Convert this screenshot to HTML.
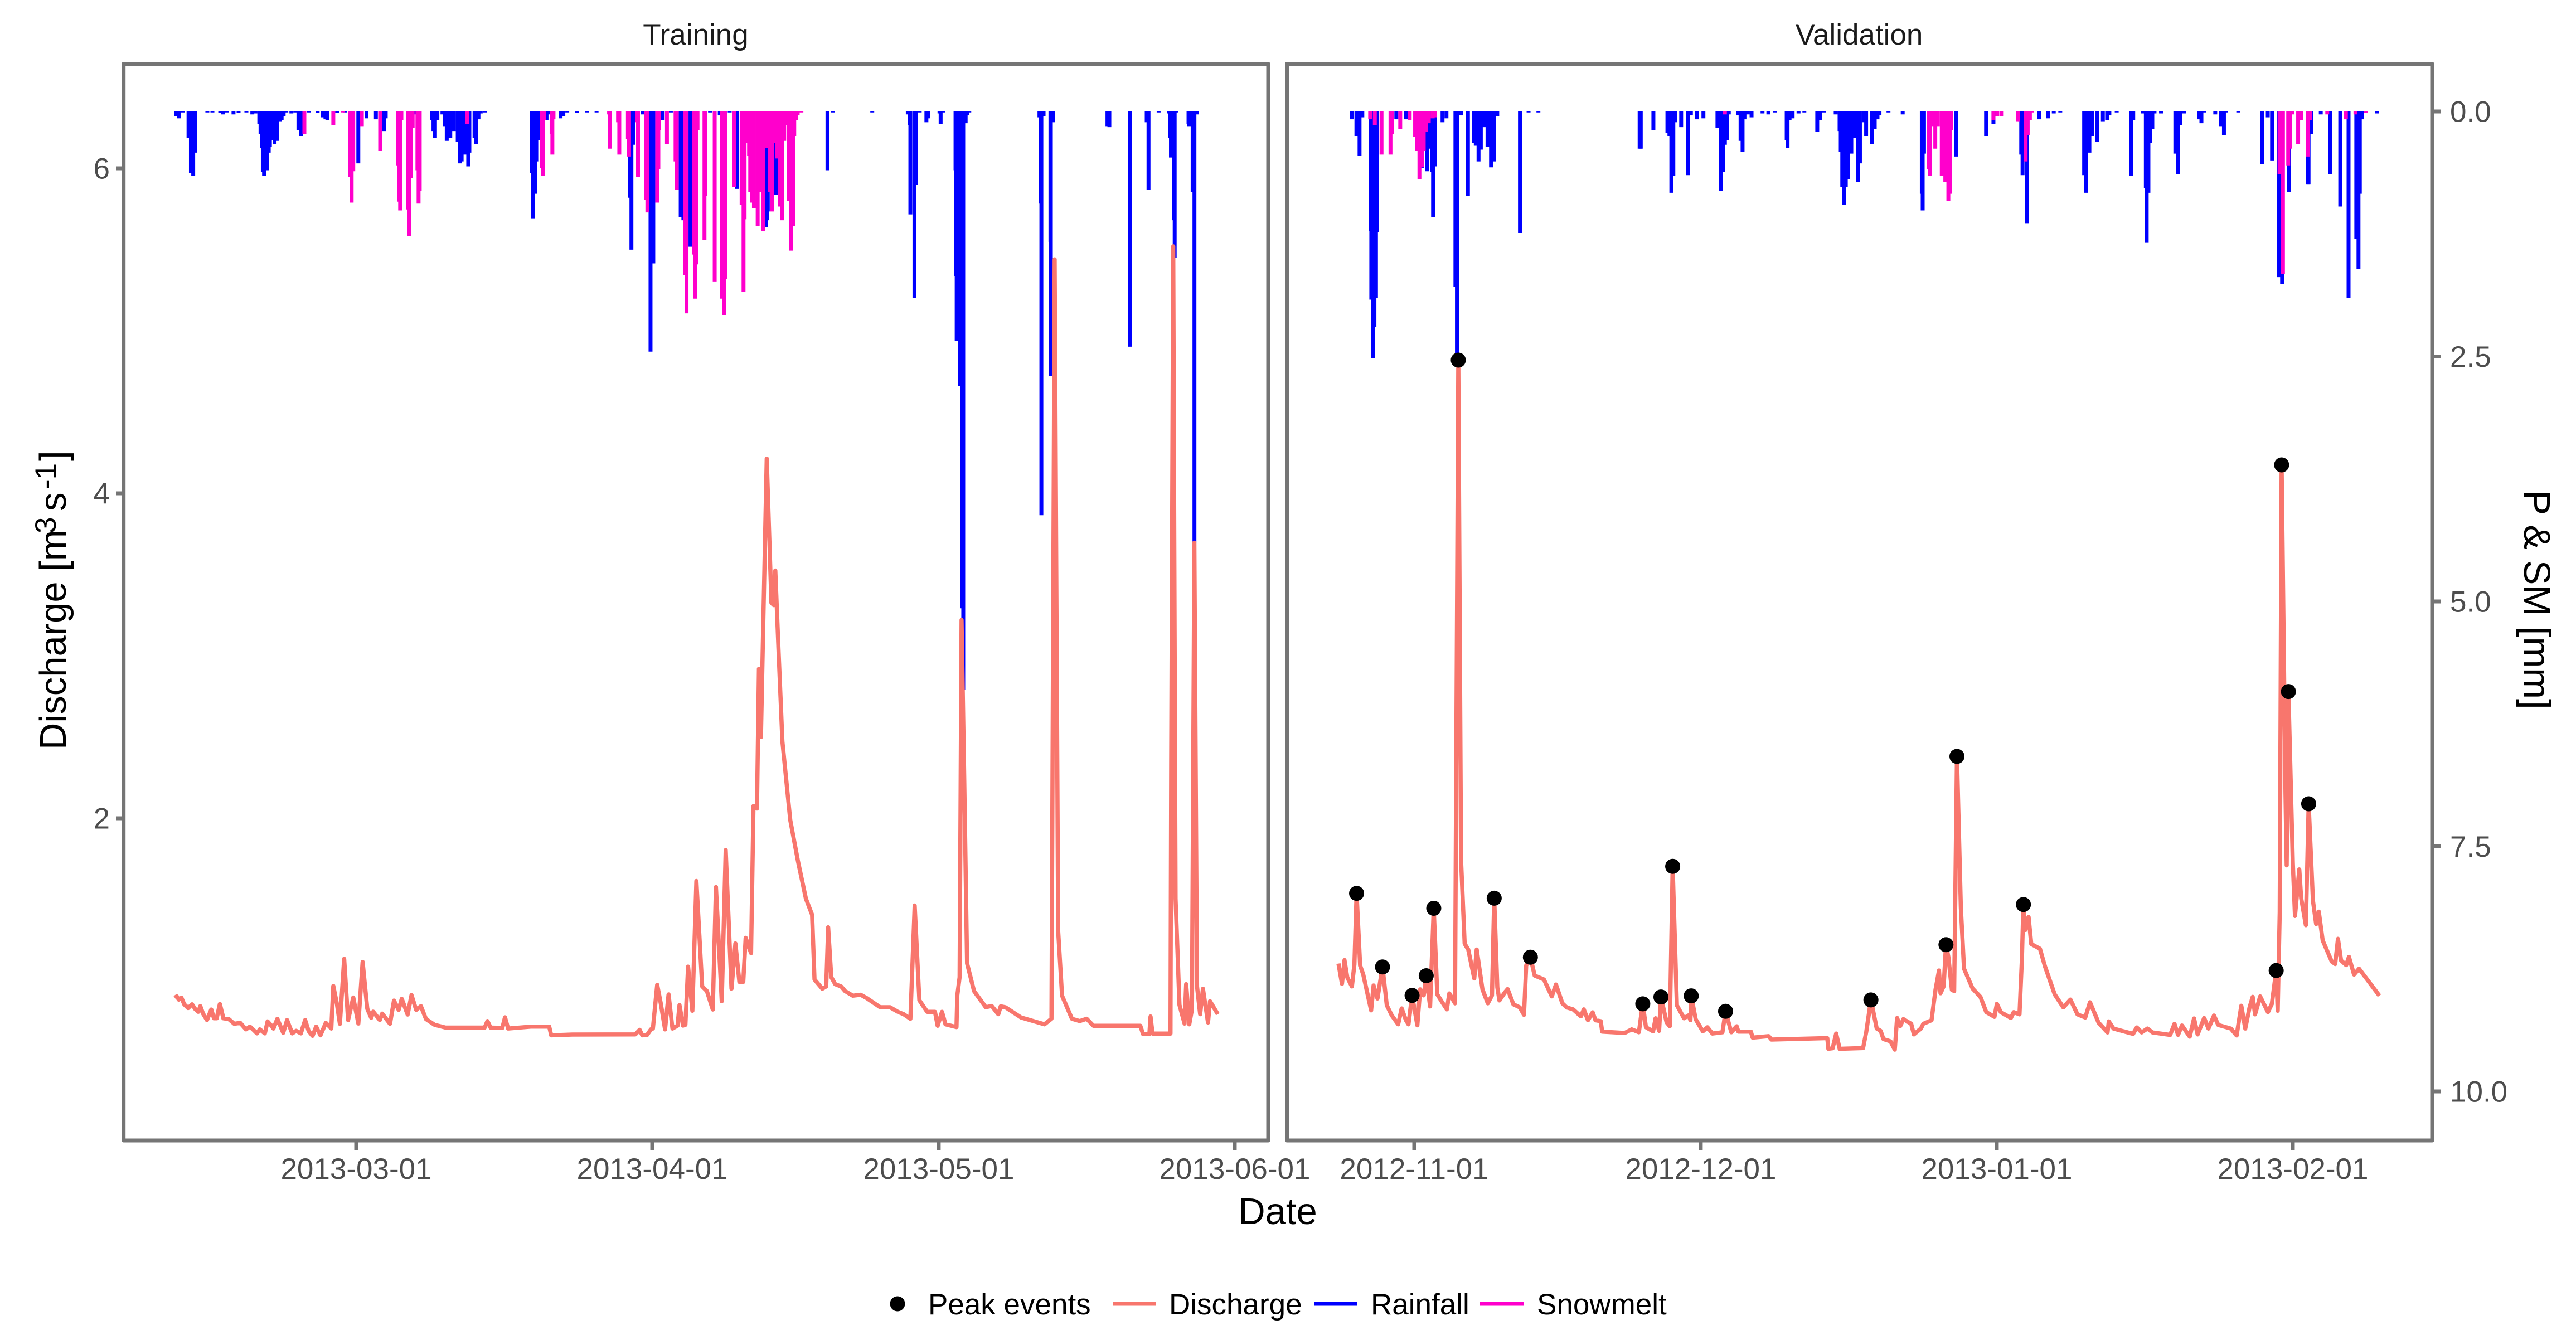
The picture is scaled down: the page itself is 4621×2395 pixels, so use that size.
<!DOCTYPE html>
<html lang="en">
<head>
<meta charset="utf-8">
<title>Discharge, rainfall and snowmelt: training and validation</title>
<style>
html,body{margin:0;padding:0;background:#fff}
svg{display:block}
text{font-family:"Liberation Sans",Arial,sans-serif}
</style>
</head>
<body>
<svg id="chart" xmlns="http://www.w3.org/2000/svg" width="4621" height="2395" viewBox="0 0 4621 2395">
  <rect x="0" y="0" width="4621" height="2395" fill="#ffffff"/>
  <g id="train-marks"></g>
  <g id="val-marks"></g>
  <rect x="221.7" y="114.5" width="2053.3" height="1931.5" fill="none" stroke="#757575" stroke-width="7" stroke-linejoin="round"/>
  <rect x="2308.5" y="114.5" width="2054.5" height="1931.5" fill="none" stroke="#757575" stroke-width="7" stroke-linejoin="round"/>
  <g id="axes"></g>
  <text x="1248" y="80" font-size="53" fill="#1a1a1a" text-anchor="middle">Training</text>
  <text x="3335" y="80" font-size="53" fill="#1a1a1a" text-anchor="middle">Validation</text>
  <text x="2292" y="2196" font-size="67" fill="#000" text-anchor="middle">Date</text>
  <text transform="translate(118,1345) rotate(-90)" font-size="67" fill="#000"><tspan x="0" y="0">Discharge [m</tspan><tspan x="388" y="-18" font-size="53">3</tspan><tspan x="428" y="0">s</tspan><tspan x="467" y="-18" font-size="53">-1</tspan><tspan x="518" y="0">]</tspan></text>
  <text transform="translate(4528,1076) rotate(90)" font-size="67" fill="#000" text-anchor="middle">P &amp; SM [mm]</text>
  <g>
    <circle cx="1610" cy="2339" r="13.5" fill="#000"/>
    <text x="1665" y="2358" font-size="53" fill="#000">Peak events</text>
    <rect x="1997" y="2335.5" width="77" height="7" fill="#F8766D"/>
    <text x="2097" y="2358" font-size="53" fill="#000">Discharge</text>
    <rect x="2357" y="2335.5" width="78" height="7" fill="#0000FF"/>
    <text x="2459" y="2358" font-size="53" fill="#000">Rainfall</text>
    <rect x="2655" y="2335.5" width="78" height="7" fill="#FF00CC"/>
    <text x="2757" y="2358" font-size="53" fill="#000">Snowmelt</text>
  </g>
</svg>
<script>
// Tick values
const trainTickDates = ['2013-03-01','2013-04-01','2013-05-01','2013-06-01'];
const valTickDates = ['2012-11-01','2012-12-01','2013-01-01','2013-02-01'];
const dischargeTicks = [2,4,6];
const precipTicks = [0,2.5,5,7.5,10];

// Training panel: days since 2013-03-01
const trainRainDays = [
-18.87,-18.58,-18.17,-17.56,-17.31,-17.07,-16.90,-15.59,-15.06,-14.24,
-13.95,-13.54,-12.85,-12.32,-11.50,-10.88,-10.55,-10.15,-10.02,-9.86,
-9.78,-9.65,-9.53,-9.32,-9.16,-9.04,-8.83,-8.55,-8.26,-8.01,
-7.81,-7.60,-7.32,-6.79,-6.38,-6.05,-5.80,-4.94,-4.04,-3.51,
-3.22,-3.02,-2.0,-1.17,0.22,1.08,2.06,2.92,3.09,6.12,
7.96,8.09,8.25,8.50,9.03,9.27,9.48,9.85,10.22,10.63,
10.83,11.04,11.36,11.73,11.85,12.39,12.55,12.80,13.04,13.49,
18.41,18.53,18.74,18.86,19.11,19.93,20.09,21.40,21.69,22.1,
23.12,24.14,25.17,28.69,28.82,29.02,30.0,30.82,31.11,32.09,
32.95,33.98,34.26,35.0,37.05,38.07,39.11,39.89,42.90,43.02,
43.10,43.96,49.35,49.94,54.04,57.76,57.95,58.03,58.46,58.62,
59.01,59.71,59.91,61.08,61.2,61.47,62.76,62.84,62.88,63.25,
63.46,63.57,63.82,64.0,64.2,71.55,71.7,71.75,71.98,72.70,
72.74,73.0,78.67,78.87,81.0,82.78,82.97,84.03,85.12,85.24,
85.32,85.63,85.71,85.9,87.16,87.2,87.59,87.78,88.05];
const trainRainMm = [
.05,.07,.01,.27,.63,.66,.42,.01,.01,.015,
.03,.01,.03,.015,.01,.03,.02,.13,.23,.37,
.62,.66,.60,.60,.42,.36,.29,.33,.30,.10,
.09,.05,.01,.02,.01,.19,.25,.01,.015,.06,
.08,.09,.015,.01,.53,.07,.08,.20,.07,.03,
.09,.20,.27,.09,.03,.15,.30,.27,.20,.31,
.53,.51,.44,.56,.42,.27,.33,.08,.02,.01,
.63,1.09,.84,.51,.29,.09,.03,.07,.05,.01,
.015,.01,.01,.88,1.41,.34,.03,2.45,1.55,.09,
.01,1.08,1.11,1.38,.01,.04,.01,.79,1.18,1.11,
1.02,.85,.60,.01,.01,.03,.14,1.05,1.90,.75,
.01,.11,.07,.02,.13,.01,.60,1.68,2.34,2.8,
5.07,5.9,.12,.04,.01,.06,.94,4.12,.05,1.33,
2.7,.11,.15,.16,2.4,.11,.80,.01,.02,.27,
.47,1.11,1.49,.01,.13,.15,.82,4.4,.03];

const trainSnowDays = [
-5.43,-2.40,-1.42,-.64,-.48,-.31,.59,2.51,4.40,4.52,
4.60,4.73,5.42,5.54,5.71,5.91,6.41,6.53,6.65,11.61,
19.44,19.56,19.68,20.46,20.54,20.66,26.48,26.56,27.42,27.55,
28.45,28.57,29.43,29.51,30.37,30.49,31.52,31.64,31.72,32.54,
33.44,33.57,34.47,34.59,35.37,35.49,35.61,35.74,36.47,36.56,
37.54,38.29,38.52,38.64,39.58,40.36,40.56,40.67,40.95,41.14,
41.26,41.46,41.65,42.04,42.31,42.59,42.90,43.33,43.57,43.76,
44.07,44.35,44.58,44.82,45.05,45.33,45.52,45.76,45.87,46.03,
46.23,46.62];
const trainSnowMm = [
.23,.14,.01,.67,.93,.61,.15,.40,.55,.92,
1.01,.09,1.0,1.27,.68,.17,.60,.94,.81,.13,
.58,.66,.09,.23,.44,.08,.03,.38,.11,.44,
.28,.46,.11,.67,.90,1.03,.93,.59,.19,.33,
.51,.80,1.67,2.06,1.46,1.91,1.56,.19,1.31,.86,
1.74,1.91,2.08,1.71,.77,.95,1.84,1.10,.32,.45,
.82,.93,.99,1.17,.82,1.22,.37,.82,1.02,.32,
.48,.97,1.11,.30,.14,.91,1.42,1.17,.25,.09,
.04,.01];

const trainQDays = [
-19.0,-18.79,-18.58,-18.30,-18.01,-17.60,-17.19,-16.86,-16.54,-16.33,
-16.04,-15.63,-15.18,-14.90,-14.61,-14.28,-13.91,-13.34,-12.77,-12.15,
-11.54,-11.13,-10.72,-10.39,-10.10,-9.57,-9.28,-8.96,-8.67,-8.26,
-7.65,-7.24,-6.70,-6.29,-5.80,-5.35,-4.98,-4.57,-4.20,-3.75,
-3.18,-2.61,-2.40,-2.03,-1.71,-1.26,-.85,-.31,.22,.67,
1.16,1.57,1.78,2.47,2.72,3.54,3.95,4.44,4.77,5.38,
5.79,6.28,6.77,7.31,8.21,9.36,11.81,13.45,13.74,14.07,
15.30,15.58,15.91,18.37,20.21,20.42,22.63,29.23,29.68,29.96,
30.45,30.86,31.07,31.52,31.89,32.34,32.71,33.12,33.65,33.85,
34.22,34.47,34.75,35.2,35.62,36.23,36.72,37.34,37.67,38.28,
38.69,39.30,39.71,40.12,40.53,40.78,41.35,41.6,41.97,42.17,
42.38,42.58,42.99,43.48,43.73,43.89,44.22,44.63,45.45,46.27,
47.09,47.74,47.99,48.81,49.22,49.42,49.75,50.16,50.78,51.19,
52.0,52.82,53.44,54.87,55.9,56.72,57.33,58.03,58.48,58.97,
59.79,60.61,60.89,61.34,61.71,62.86,
62.94,63.19,63.39,63.68,63.97,64.70,65.93,66.55,67.24,67.49,
67.98,69.62,72.08,72.81,73.14,73.51,73.92,74.95,75.77,76.5,
77.2,82.11,82.4,83.06,83.18,83.39,85.27,85.35,85.56,85.8,
86.21,86.74,86.91,87.24,87.52,87.77,88.05,88.38,88.67,89.2,
89.41,90.23];
const trainQValues = [
.895,.904,.884,.895,.855,.832,.855,.826,.809,.844,
.798,.758,.823,.769,.769,.857,.769,.764,.735,.741,
.701,.718,.695,.676,.701,.676,.75,.729,.706,.766,
.68,.758,.676,.692,.676,.758,.69,.661,.718,.664,
.741,.706,.968,.861,.735,1.135,.758,.897,.737,1.116,
.827,.772,.81,.758,.798,.735,.878,.821,.889,.792,
.912,.821,.844,.764,.729,.712,.712,.712,.752,.712,
.71,.775,.706,.718,.718,.664,.669,.67,.698,.664,
.666,.701,.706,.975,.861,.701,.916,.706,.724,.85,
.724,.729,1.087,.815,1.614,.965,.937,.823,1.577,.874,
1.804,.951,1.23,.993,.993,1.264,1.17,2.075,2.06,2.92,
2.5,3.07,4.214,3.326,3.312,3.525,3.04,2.473,1.989,1.733,
1.505,1.406,1.008,.951,.965,1.329,1.022,.979,.965,.937,
.908,.914,.894,.837,.837,.809,.794,.766,1.463,.88,
.809,.809,.723,.809,.732,.715,
.908,1.022,3.221,2.217,1.107,.937,.837,.845,.794,.843,
.837,.774,.732,.766,5.44,1.306,.908,.766,.752,.766,
.723,.723,.672,.672,.78,.675,.675,2.36,5.52,1.505,
.851,.737,.979,.732,.823,3.696,.965,.794,.951,.743,
.874,.794];

// Validation panel: days since 2012-11-01
const valRainDays = [
-6.55,-6.06,-5.73,-5.44,-4.58,-4.50,-4.34,-4.17,-4.01,-3.89,
-1.88,-.89,.79,1.36,1.52,1.85,1.97,2.14,2.96,3.37,
4.31,4.47,4.92,5.62,6.23,6.44,6.73,6.97,7.34,7.67,
8.04,8.32,8.69,11.07,11.97,13.0,23.60,23.72,25.04,26.51,
26.72,26.92,27.13,27.33,27.95,28.64,28.97,29.58,30.28,31.75,
32.08,32.33,32.53,32.74,32.94,33.89,34.17,34.38,34.58,34.91,
35.32,36.47,37.08,37.78,39.0,39.09,39.3,39.62,40.24,40.85,
42.2,42.49,42.9,44.13,44.54,44.66,44.82,44.99,45.19,45.44,
45.77,46.09,46.46,46.67,47.08,47.32,47.94,48.22,48.51,48.72,
49.66,51.15,53.15,53.24,53.38,56.74,59.88,60.65,63.43,63.56,
63.7,63.93,64.15,65.47,66.38,66.97,67.65,70.15,70.33,70.7,
71.0,71.52,72.11,72.56,72.79,73.56,75.06,75.29,76.29,76.61,
76.7,76.88,77.06,77.29,77.52,78.2,79.7,79.97,80.24,80.6,
82.2,82.43,82.74,83.88,84.47,84.79,85.02,86.29,88.79,89.38,
89.83,90.52,90.88,91.61,93.56,93.65,93.93,94.93,95.93,96.97,
97.84,98.65,98.88,99.02,99.25,100.83];
const valRainMm = [
.08,.25,.45,.06,1.22,1.92,2.52,2.20,1.90,1.23,
.08,.08,.58,.61,.38,.62,1.08,.56,.11,.07,
1.79,2.53,.04,.86,.32,.35,.51,.39,.16,.36,
.57,.51,.05,1.24,.01,.01,.38,.38,.19,.22,
.25,.83,.66,.11,.16,.65,.04,.08,.07,.17,
.81,.62,.34,.29,.03,.04,.30,.41,.08,.03,
.06,.02,.03,.01,.29,.37,.09,.07,.02,.01,
.21,.09,.01,.03,.20,.41,.77,.95,.77,.69,
.43,.27,.72,.53,.11,.25,.33,.18,.08,.04,
.01,.03,.84,1.01,.43,.46,.25,.13,.10,.44,
.65,.51,1.14,.08,.07,.02,.01,.65,.83,.42,
.25,.31,.10,.09,.04,.01,.66,.09,.02,.78,
1.34,.83,.32,.18,.02,.02,.43,.64,.14,.02,
.08,.12,.01,.03,.15,.24,.01,.01,.54,.06,
.50,1.69,1.76,.82,.74,.74,.23,.03,.64,.97,
1.90,1.30,1.61,.84,.08,.02];

const valSnowDays = [
-4.62,-4.13,-3.43,-2.49,-2.33,-1.47,-.48,.09,.29,.54,
.79,.99,1.24,1.52,1.93,2.14,32.53,53.88,54.02,54.24,
54.56,54.83,55.24,55.61,55.93,56.11,56.2,60.65,61.06,61.52,
63.25,64.02,64.24,64.47,64.7,90.61,90.97,91.52,91.74,91.97,
92.56,92.88,93.56,93.79,95.61,97.56,98.56,99.65];
const valSnowMm = [
.08,.14,.44,.44,.23,.18,.09,.26,.40,.69,
.57,.40,.21,.12,.07,.06,.03,.59,.66,.15,
.38,.15,.66,.72,.91,.84,.19,.09,.05,.05,
.10,.51,.24,.09,.01,.64,1.66,.55,.38,.03,
.33,.09,.46,.09,.03,.08,.03,.015];

const valQDays = [
-7.94,-7.57,-7.31,-7.01,-6.53,-6.27,-6.04,-5.67,-5.34,-4.52,
-4.26,-3.85,-3.33,-2.88,-2.36,-1.69,-1.32,-.87,-.61,-.23,
.32,.62,.99,1.25,1.66,2.04,2.41,2.93,3.41,3.67,
4.27,4.61,4.9,5.28,5.65,6.28,6.54,7.14,7.70,8.14,
8.37,8.70,8.92,9.48,9.78,10.38,11.05,11.49,11.72,12.16,
12.61,13.58,14.40,14.84,15.51,15.96,16.63,17.45,17.75,18.19,
18.68,18.98,19.53,19.68,22.03,22.77,23.52,23.93,24.26,25.01,
25.27,25.64,25.83,26.42,26.76,27.06,27.5,28.25,28.73,28.92,
29.0,29.47,30.22,30.7,31.22,32.27,32.6,33.2,33.76,33.94,
35.25,35.43,37.11,37.41,43.25,43.36,43.81,44.18,44.55,47.0,
47.33,47.82,48.43,48.84,49.13,49.87,50.32,50.56,50.89,51.22,
52.04,52.32,53.06,53.31,54.17,54.58,54.95,55.11,55.44,55.68,
55.93,56.3,56.54,56.83,57.24,57.57,58.47,59.29,59.9,60.76,
61.01,61.42,62.48,62.77,63.38,63.63,63.79,64.0,64.33,64.61,
65.52,66.05,67.07,67.97,68.71,69.45,70.27,70.76,71.66,72.6,
72.73,73.22,75.27,75.67,76.17,76.78,77.31,79.16,79.61,79.98,
80.39,81.21,81.66,82.03,82.72,83.17,83.75,84.2,85.51,86.12,
86.61,87.02,87.47,87.8,88.05,88.58,89.4,89.81,90.26,90.42,
90.63,90.83,91.24,91.36,91.54,92.0,92.23,92.68,92.88,93.37,
93.66,94.11,94.44,94.72,95.13,96.08,96.44,96.73,97.06,97.59,
97.88,98.41,98.94,101.07];
const valQValues = [
1.106,.981,1.127,1.02,.965,1.10,1.538,1.094,1.038,.818,
.971,.891,1.085,.849,.787,.732,.83,.757,.732,.91,
.726,.947,.91,1.031,.842,1.446,.916,.867,.824,.922,
.861,4.82,1.743,1.228,1.192,1.014,1.192,.947,.861,.91,
1.508,.959,.879,.928,.949,.855,.836,.79,1.094,1.145,
1.032,1.008,.904,.977,.861,.836,.824,.781,.824,.757,
.806,.757,.751,.687,.679,.701,.683,.858,.714,.689,
.769,.692,.90,.744,.72,1.704,.849,.769,.787,.757,
.907,.763,.689,.714,.675,.683,.812,.683,.72,.687,
.687,.65,.659,.638,.647,.581,.585,.675,.581,.586,
.685,.882,.706,.692,.641,.627,.576,.771,.721,.764,
.735,.67,.706,.735,.757,.944,1.063,.923,.966,1.222,
1.147,.944,.937,2.381,1.45,1.074,.952,.901,.807,.778,
.858,.807,.771,.807,.793,1.132,1.469,1.313,1.392,1.226,
1.197,1.089,.916,.836,.884,.793,.774,.868,.742,.682,
.75,.706,.673,.713,.682,.706,.682,.667,.735,.667,
.725,.656,.768,.67,.771,.706,.786,.728,.706,.663,
.846,.706,.836,.901,.793,.904,.807,.858,1.063,.815,
1.421,4.175,2.143,1.71,2.78,1.724,1.399,1.685,1.508,1.342,
2.089,1.493,1.349,1.425,1.248,1.118,1.103,1.258,1.125,1.096,
1.147,1.038,1.074,.908];

const peakDays = [-6.04,-3.33,-.23,1.25,2.04,4.61,8.37,12.16,23.93,25.83,27.06,29.0,32.6,47.82,55.68,56.83,63.79,90.26,90.83,91.54,93.66];
const peakValues = [1.538,1.085,.91,1.031,1.446,4.82,1.508,1.145,.858,.90,1.704,.907,.812,.882,1.222,2.381,1.469,1.063,4.175,2.78,2.089];

// Axis functions
const NS = 'http://www.w3.org/2000/svg';
const PX_PER_DAY = 17.13;
function xTrain(day){ return 639 + PX_PER_DAY * day; }
function xVal(day){ return 2537 + PX_PER_DAY * day; }
function yQ(q){ return 2051 - 291.5 * q; }
function yP(p){ return 200 + 175.8 * p; }
function daysFrom(anchor, date){ return (Date.parse(date) - Date.parse(anchor)) / 86400000; }

function svgEl(tag, attrs){
  const el = document.createElementNS(NS, tag);
  for (const k in attrs) el.setAttribute(k, attrs[k]);
  return el;
}

function drawRain(group, days, mm, xFn, color){
  for (let i = 0; i < days.length; i++){
    const el = svgEl('line', {x1:xFn(days[i]), x2:xFn(days[i]), y1:yP(0), y2:yP(mm[i]), stroke:color, 'stroke-width':7});
    
    
    group.appendChild(el);
  }
}
function drawSnow(group, days, mm, xFn, color){
  for (let i = 0; i < days.length; i++){
    const el = svgEl('line', {x1:xFn(days[i]), x2:xFn(days[i]), y1:yP(0), y2:yP(mm[i]), stroke:color, 'stroke-width':7});
    
    
    group.appendChild(el);
  }
}
function drawDischarge(group, days, values, xFn){
  let d = '';
  for (let i = 0; i < days.length; i++){
    d += (i ? 'L' : 'M') + xFn(days[i]).toFixed(1) + ' ' + yQ(values[i]).toFixed(1);
  }
  const el = svgEl('path', {d:d, fill:'none', stroke:'#F8766D', 'stroke-width':7.5, 'stroke-linejoin':'round', 'stroke-linecap':'butt'});
  
  
  group.appendChild(el);
}

const trainGroup = document.getElementById('train-marks');
const valGroup = document.getElementById('val-marks');
drawRain(trainGroup, trainRainDays, trainRainMm, xTrain, '#0000FF');
drawSnow(trainGroup, trainSnowDays, trainSnowMm, xTrain, '#FF00CC');
drawDischarge(trainGroup, trainQDays, trainQValues, xTrain);
drawRain(valGroup, valRainDays, valRainMm, xVal, '#0000FF');
drawSnow(valGroup, valSnowDays, valSnowMm, xVal, '#FF00CC');
drawDischarge(valGroup, valQDays, valQValues, xVal);

for (let i = 0; i < peakDays.length; i++){
  const c = svgEl('circle', {cx:xVal(peakDays[i]), cy:yQ(peakValues[i]), r:13.5, fill:'#000'});
  
  
  valGroup.appendChild(c);
}

const axes = document.getElementById('axes');
const TICK_COLOR = '#757575';
const LABEL_COLOR = '#4d4d4d';

function drawXTicks(dates, anchor, xFn){
  dates.forEach(function(date){
    const x = xFn(daysFrom(anchor, date));
    const t = svgEl('line', {x1:x, x2:x, y1:2046, y2:2063, stroke:TICK_COLOR, 'stroke-width':7});
    
    
    axes.appendChild(t);
    const l = svgEl('text', {x:x, y:2115, 'font-size':53, fill:LABEL_COLOR, 'text-anchor':'middle'});
    
    
    l.textContent = date;
    axes.appendChild(l);
  });
}
drawXTicks(trainTickDates, '2013-03-01', xTrain);
drawXTicks(valTickDates, '2012-11-01', xVal);

dischargeTicks.forEach(function(v){
  const y = yQ(v);
  const t = svgEl('line', {x1:208, x2:222, y1:y, y2:y, stroke:TICK_COLOR, 'stroke-width':7});
  
  
  axes.appendChild(t);
  const l = svgEl('text', {x:197, y:y + 18.5, 'font-size':53, fill:LABEL_COLOR, 'text-anchor':'end'});
  
  
  l.textContent = String(v);
  axes.appendChild(l);
});

precipTicks.forEach(function(v){
  const y = yP(v);
  const t = svgEl('line', {x1:4363, x2:4379, y1:y, y2:y, stroke:TICK_COLOR, 'stroke-width':7});
  
  
  axes.appendChild(t);
  const l = svgEl('text', {x:4395, y:y + 18.5, 'font-size':53, fill:LABEL_COLOR});
  
  
  l.textContent = v.toFixed(1);
  axes.appendChild(l);
});
</script>
</body>
</html>
